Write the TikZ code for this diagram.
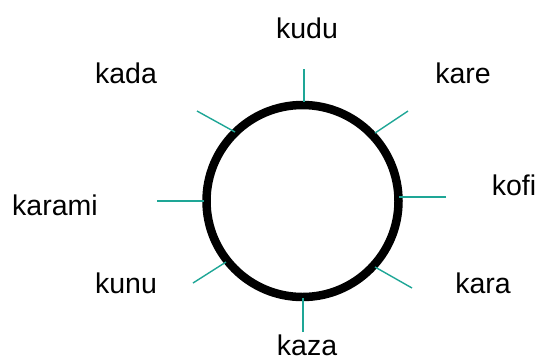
\documentclass[tikz,border=0pt]{standalone}
\usepackage{fontspec}
\setmainfont{Liberation Sans}
\usepackage{xcolor}
\usetikzlibrary{positioning}
\definecolor{spoketeal}{RGB}{30,166,150}

\begin{document}
\begin{tikzpicture}[
    x=1pt, y=-1pt,
    ring/.style={draw=black, line width=8.5pt},
    spoke/.style={draw=spoketeal, line width=1.4pt},
    word/.style={anchor=base, inner sep=0pt, font=\fontsize{28.5}{30}\selectfont}
]
    \useasboundingbox (0,0) rectangle (537,360);

    % the wheel
    \coordinate (hub) at (302.5,201);
    \draw[ring] (hub) circle[radius=96];

    % spokes, clockwise from the top
    \draw[spoke] (304,69)  -- (304,102);
    \draw[spoke] (408,111) -- (375,133);
    \draw[spoke] (446,197) -- (399,197);
    \draw[spoke] (412,288) -- (375,267);
    \draw[spoke] (303,332) -- (303,298);
    \draw[spoke] (193,283) -- (226,262);
    \draw[spoke] (157,201) -- (204,201);
    \draw[spoke] (197,111) -- (235,132);

    % names
    \node[word] (kudu)   at (307,38)  {kudu};
    \node[word] (kare)   at (463,83)  {kare};
    \node[word] (kofi)   at (514,195) {kofi};
    \node[word] (kara)   at (483,293) {kara};
    \node[word] (kaza)   at (307,355) {kaza};
    \node[word] (kunu)   at (126,293) {kunu};
    \node[word] (karami) at (55,215)  {karami};
    \node[word] (kada)   at (126,83)  {kada};

\end{tikzpicture}
\end{document}
